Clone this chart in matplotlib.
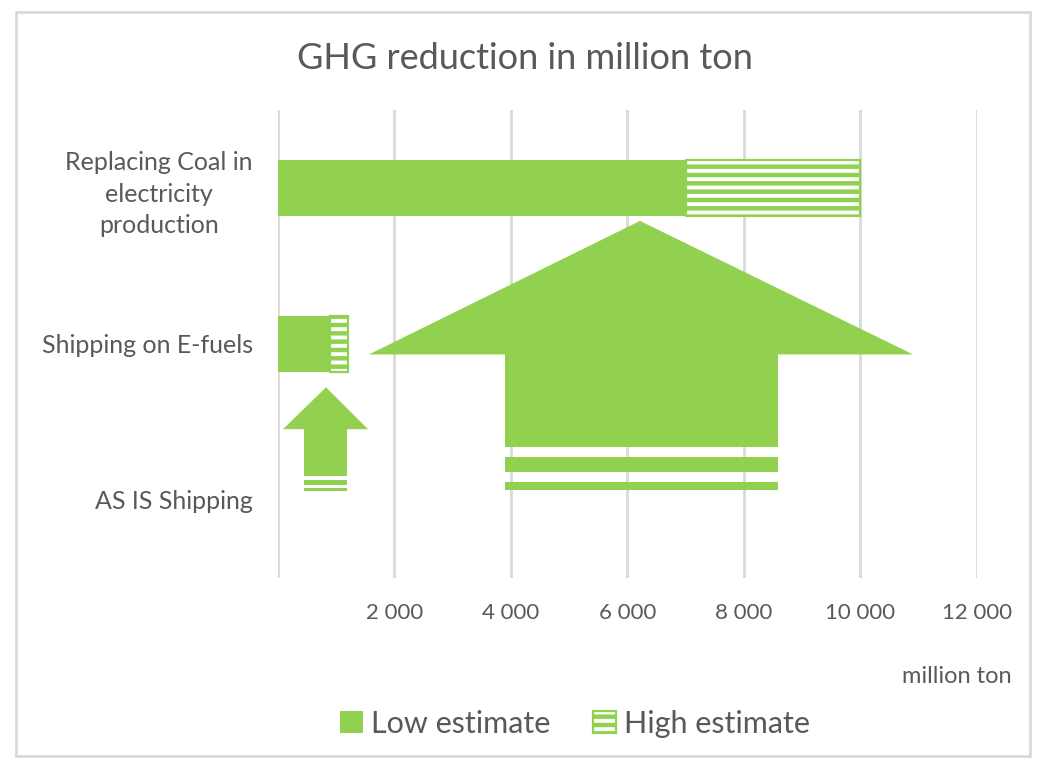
import matplotlib
matplotlib.use("Agg")
import matplotlib.pyplot as plt
from matplotlib.patches import Patch, Polygon, Rectangle
from matplotlib.legend_handler import HandlerTuple
from matplotlib.ticker import FuncFormatter, MultipleLocator

plt.rcParams['font.family'] = ['Lato', 'DejaVu Sans']
plt.rcParams['hatch.linewidth'] = 2.8

# data
categories = ["Replacing Coal in\nelectricity\nproduction", "Shipping on E-fuels", "AS IS Shipping"]
low_estimate = [7000, 900, 0]
high_extra = [3000, 300, 0]   # added on top of the low estimate

green = '#92D050'
grey_txt = '#595959'
grid_col = '#d9d9d9'

fig = plt.figure(figsize=(10.4, 7.58), dpi=100)
ax = fig.add_axes([0.2673, 0.2375, 0.6721, 0.6174])

pos = list(range(len(categories)))
ax.barh(pos, low_estimate, height=0.365, color=green, linewidth=0, zorder=3)
ax.barh(pos, high_extra, left=low_estimate, height=0.365, color=green,
        edgecolor='white', linewidth=0, hatch='--', zorder=3)
# green outline round the striped part (only where there is one)
for p, lo, hi in zip(pos, low_estimate, high_extra):
    if hi > 0:
        ax.barh(p, hi, left=lo, height=0.365, fill=False, edgecolor=green,
                linewidth=1.6, zorder=4)

ax.set_xlim(0, 12000)
ax.set_ylim(2.5, -0.5)
ax.set_yticks(pos)
ax.set_yticklabels(categories, multialignment='center', linespacing=1.45)
ax.xaxis.set_major_locator(MultipleLocator(2000))
ax.xaxis.set_major_formatter(FuncFormatter(
    lambda v, p: '' if v == 0 else f"{v:,.0f}".replace(',', ' ')))
ax.tick_params(axis='y', length=0, pad=18, labelsize=18, labelcolor=grey_txt)
ax.tick_params(axis='x', length=0, pad=18, labelsize=16, labelcolor=grey_txt)
ax.grid(axis='x', color=grid_col, linewidth=2, zorder=0)
for s in ax.spines.values():
    s.set_visible(False)


# big arrows drawn over the chart (shape in data units)
def up_arrow(tip_x, tip_y, head_l, head_r, base_y, shaft_l, shaft_r, shaft_bot, stripes):
    ax.add_patch(Polygon([(head_l, base_y), (tip_x, tip_y), (head_r, base_y)],
                         closed=True, color=green, linewidth=0, zorder=5))
    ax.add_patch(Rectangle((shaft_l, base_y - 0.002), shaft_r - shaft_l, shaft_bot - base_y + 0.002,
                           color=green, linewidth=0, zorder=5))
    for y0, y1 in stripes:
        ax.add_patch(Rectangle((shaft_l, y0), shaft_r - shaft_l, y1 - y0,
                               color=green, linewidth=0, zorder=5))


up_arrow(6215, 0.211, 1562, 10901, 1.067, 3897, 8584, 1.661,
         [(1.725, 1.821), (1.885, 1.936)])
up_arrow(824, 1.278, 86, 1545, 1.546, 446, 1185, 1.847,
         [(1.872, 1.904), (1.923, 1.942)])

fig.text(0.505, 0.923, "GHG reduction in million ton", ha='center', va='center',
         fontsize=26, color=grey_txt)
fig.text(0.973, 0.108, "million ton", ha='right', va='center',
         fontsize=17, color=grey_txt)

low_h = Patch(facecolor=green, edgecolor=green, linewidth=0)
high_h = (Patch(facecolor=green, edgecolor='white', hatch='--', linewidth=0),
          Patch(fill=False, edgecolor=green, linewidth=1.6))
leg = fig.legend([low_h, high_h], ['Low estimate', 'High estimate'],
                 handler_map={tuple: HandlerTuple(ndivide=1, pad=0)},
                 loc='center', bbox_to_anchor=(0.553, 0.045), ncol=2,
                 frameon=False, fontsize=22, handlelength=0.75, handleheight=0.75,
                 handletextpad=0.25, columnspacing=1.4, labelcolor=grey_txt)

fig.patches.append(Rectangle((16 / 1040, 2 / 758), 1014 / 1040, 744 / 758,
                             transform=fig.transFigure, fill=False,
                             edgecolor=grid_col, linewidth=2))

fig.savefig('out.png', dpi=100)
